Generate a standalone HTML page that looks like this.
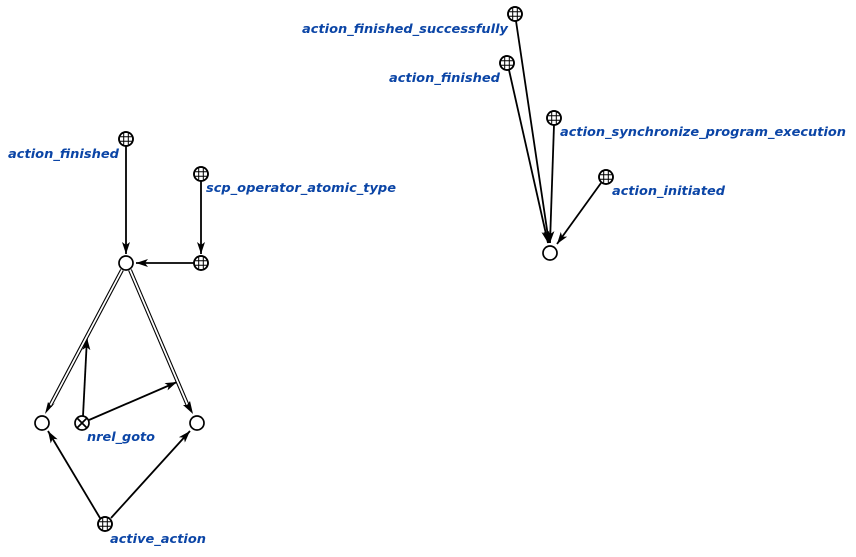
<!DOCTYPE html>
<html><head><style>
html,body{margin:0;padding:0;background:#fff;}
svg{display:block}
text{font-family:"DejaVu Sans",sans-serif;font-weight:bold;font-style:italic;font-size:12px;fill:#0b45a6;}
</style></head><body>
<svg width="856" height="557" viewBox="0 0 856 557" xmlns="http://www.w3.org/2000/svg">
<defs>
<marker id="ar" viewBox="0 0 12 8" refX="12" refY="4" markerWidth="12" markerHeight="8" markerUnits="userSpaceOnUse" orient="auto">
<path d="M0,0 L12,4 L0,8 L3,4 Z" fill="#000"/>
</marker>
<g id="grid">
<circle r="7" fill="#fff" stroke="#000" stroke-width="1.7"/>
<path d="M-7,-2.3H7M-7,2.3H7M-2.3,-7V7M2.3,-7V7" stroke="#000" stroke-width="1"/>
<circle r="7" fill="none" stroke="#000" stroke-width="1.7"/>
</g>
</defs>
<g stroke="#000" stroke-width="1.8" fill="none">
<line x1="126" y1="146" x2="126" y2="254" marker-end="url(#ar)"/>
<line x1="201" y1="181" x2="201" y2="254" marker-end="url(#ar)"/>
<line x1="194" y1="263" x2="136" y2="263" marker-end="url(#ar)"/>
<line x1="83" y1="416" x2="87" y2="338" marker-end="url(#ar)"/>
<line x1="89" y1="420" x2="177" y2="382" marker-end="url(#ar)"/>
<line x1="100" y1="518" x2="48" y2="431" marker-end="url(#ar)"/>
<line x1="111" y1="518" x2="190" y2="431" marker-end="url(#ar)"/>
<line x1="516" y1="21" x2="549" y2="243" marker-end="url(#ar)"/>
<line x1="509" y1="70" x2="548" y2="243" marker-end="url(#ar)"/>
<line x1="554" y1="125" x2="550" y2="243" marker-end="url(#ar)"/>
<line x1="601" y1="183" x2="557" y2="244" marker-end="url(#ar)"/>
</g>
<g fill="none">
<line x1="122" y1="270" x2="50" y2="406" stroke="#000" stroke-width="4"/>
<line x1="122" y1="270" x2="50" y2="406" stroke="#fff" stroke-width="1.8"/>
<line x1="130" y1="270" x2="188" y2="406" stroke="#000" stroke-width="4"/>
<line x1="130" y1="270" x2="188" y2="406" stroke="#fff" stroke-width="1.8"/>
<path d="M45,414 L48,402 L51,406 L55,403 Z" fill="#000"/>
<path d="M193,414 L183,405 L187,405 L190,401 Z" fill="#000"/>
</g>
<g fill="#fff" stroke="#000" stroke-width="1.7">
<circle cx="126" cy="263" r="7"/>
<circle cx="42" cy="423" r="7"/>
<circle cx="197" cy="423" r="7"/>
<circle cx="550" cy="253" r="7"/>
<circle cx="82" cy="423" r="7"/>
<path d="M77,418L87,428M87,418L77,428"/>
</g>
<use href="#grid" x="126" y="139"/>
<use href="#grid" x="201" y="174"/>
<use href="#grid" x="201" y="263"/>
<use href="#grid" x="105" y="524"/>
<use href="#grid" x="515" y="14"/>
<use href="#grid" x="507" y="63"/>
<use href="#grid" x="554" y="118"/>
<use href="#grid" x="606" y="177"/>
<text x="8" y="158" textLength="111" lengthAdjust="spacingAndGlyphs">action_finished</text>
<text x="206" y="192" textLength="190" lengthAdjust="spacingAndGlyphs">scp_operator_atomic_type</text>
<text x="87" y="441" textLength="68" lengthAdjust="spacingAndGlyphs">nrel_goto</text>
<text x="110" y="543" textLength="96" lengthAdjust="spacingAndGlyphs">active_action</text>
<text x="302" y="33" textLength="206" lengthAdjust="spacingAndGlyphs">action_finished_successfully</text>
<text x="389" y="82" textLength="111" lengthAdjust="spacingAndGlyphs">action_finished</text>
<text x="560" y="136" textLength="286" lengthAdjust="spacingAndGlyphs">action_synchronize_program_execution</text>
<text x="612" y="195" textLength="113" lengthAdjust="spacingAndGlyphs">action_initiated</text>
</svg>
</body></html>
